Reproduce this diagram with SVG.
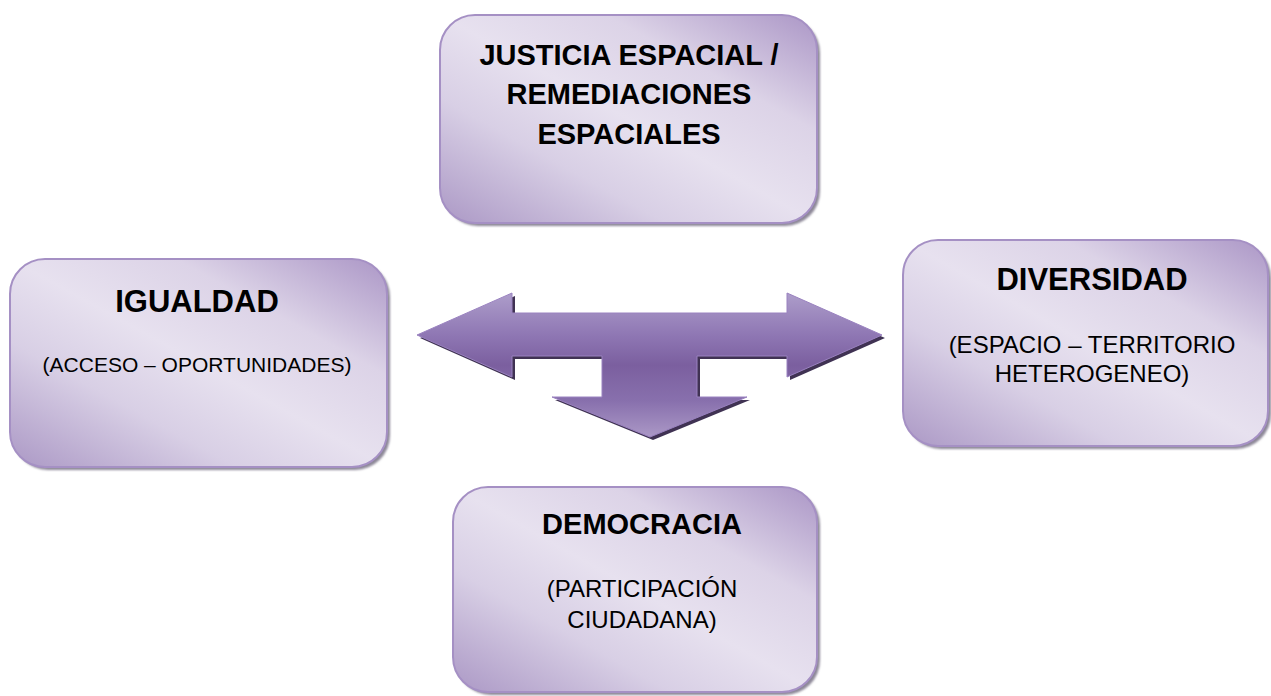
<svg xmlns="http://www.w3.org/2000/svg" width="1271" height="696" viewBox="0 0 1271 696">
<defs>
<linearGradient id="boxg" x1="0" y1="1" x2="1" y2="0">
<stop offset="0" stop-color="#ab98c5"/>
<stop offset="0.3" stop-color="#d8cfe5"/>
<stop offset="0.5" stop-color="#e7e1ef"/>
<stop offset="0.72" stop-color="#dcd3e7"/>
<stop offset="1" stop-color="#ab96c6"/>
</linearGradient>
<linearGradient id="arrg" gradientUnits="userSpaceOnUse" x1="0" y1="293" x2="0" y2="437">
<stop offset="0" stop-color="#ad9dca"/>
<stop offset="0.3" stop-color="#8e76b3"/>
<stop offset="0.5" stop-color="#7b5f9f"/>
<stop offset="0.75" stop-color="#8870ad"/>
<stop offset="1" stop-color="#ab98c6"/>
</linearGradient>
<filter id="blur" x="-5%" y="-5%" width="110%" height="110%">
<feGaussianBlur stdDeviation="1"/>
</filter>
<filter id="blur2" x="-5%" y="-5%" width="110%" height="110%">
<feGaussianBlur stdDeviation="0.5"/>
</filter>
<style>
.box{fill:url(#boxg);stroke:#a590c4;stroke-width:2}
.sh{fill:#8d8898;filter:url(#blur)}
.t{font-family:"Liberation Sans",Arial,sans-serif;text-anchor:middle;fill:#000}
.b{font-weight:bold}
</style>
</defs>
<rect width="1271" height="696" fill="#ffffff"/>
<g id="connectors">
<path d="M417,335 L512,293 L512,313 L787,313 L787,293 L882,335 L787,377 L787,356 L697,356 L697,397 L747,397 L650,437 L552,397 L602,397 L602,356 L512,356 L512,377 Z" fill="#3f3353" transform="translate(3,3)" filter="url(#blur2)"/>
<path d="M417,335 L512,293 L512,313 L787,313 L787,293 L882,335 L787,377 L787,356 L697,356 L697,397 L747,397 L650,437 L552,397 L602,397 L602,356 L512,356 L512,377 Z" fill="url(#arrg)" stroke="#9a82c0" stroke-width="1"/>
</g>
<g id="node-justicia">
<rect class="sh" x="443" y="18" width="377" height="208" rx="35"/>
<rect class="box" x="440" y="15" width="377" height="208" rx="35"/>
<text class="t b" font-size="29"><tspan x="629" y="65">JUSTICIA ESPACIAL /</tspan><tspan x="629" y="104">REMEDIACIONES</tspan><tspan x="629" y="144">ESPACIALES</tspan></text>
</g>
<g id="node-igualdad">
<rect class="sh" x="13" y="262" width="377" height="208" rx="35"/>
<rect class="box" x="10" y="259" width="377" height="208" rx="35"/>
<text class="t b" font-size="31" x="197" y="312">IGUALDAD</text>
<text class="t" font-size="21" x="197" y="372">(ACCESO – OPORTUNIDADES)</text>
</g>
<g id="node-diversidad">
<rect class="sh" x="906" y="243" width="365" height="206" rx="35"/>
<rect class="box" x="903" y="240" width="365" height="206" rx="35"/>
<text class="t b" font-size="31" x="1092" y="290">DIVERSIDAD</text>
<text class="t" font-size="24"><tspan x="1092" y="353">(ESPACIO – TERRITORIO</tspan><tspan x="1092" y="382">HETEROGENEO)</tspan></text>
</g>
<g id="node-democracia">
<rect class="sh" x="456" y="490" width="364" height="205" rx="35"/>
<rect class="box" x="453" y="487" width="364" height="205" rx="35"/>
<text class="t b" font-size="29" x="642" y="534">DEMOCRACIA</text>
<text class="t" font-size="24"><tspan x="642" y="597">(PARTICIPACIÓN</tspan><tspan x="642" y="628">CIUDADANA)</tspan></text>
</g>
</svg>
